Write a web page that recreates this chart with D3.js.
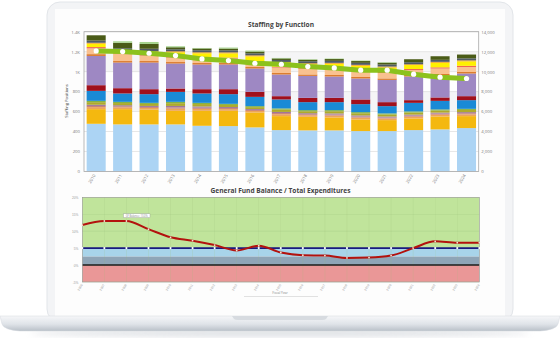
<!DOCTYPE html>
<html>
<head>
<meta charset="utf-8">
<script src="https://cdn.jsdelivr.net/npm/d3@7"></script>
<style>
  body { margin:0; background:#fff; }
  svg { display:block; font-family:"Open Sans", "DejaVu Sans", sans-serif; }
</style>
</head>
<body>
<svg id="main" width="560" height="361"></svg>
<script>
// staffing by function, stacked (positions)
var years = [2010,2011,2012,2013,2014,2015,2016,2017,2018,2019,2020,2021,2022,2023,2024];
var lightBlue = [477,471,471,471,457,454,441,414,411,411,404,404,414,421,434];
var gold      = [147,153,149,136,150,153,150,140,136,130,117,110,117,130,120];
var tan       = [20,18,16,22,20,17,15,19,16,18,18,16,17,17,18];
var rosy      = [12,11,10,13,12,11,10,12,10,11,11,10,11,11,11];
var mauve     = [12,10,10,14,12,10,9,11,10,11,11,10,10,10,11];
var olive     = [26,22,20,28,24,21,19,23,20,22,22,20,21,21,22];
var green     = [13,12,11,13,12,11,10,12,11,11,11,11,11,11,11];
var blue      = [100,84,87,100,94,97,93,90,80,80,80,73,86,86,87];
var darkRed   = [57,53,50,34,43,50,50,33,43,43,47,40,27,34,40];
var purple    = [293,257,267,250,247,247,234,217,220,214,210,223,237,220,227];
var orange    = [18,15,15,15,15,15,15,15,15,15,15,15,15,15,15];
var peach     = [58,70,55,45,40,45,50,55,55,55,55,55,50,55,50];
var salmon    = [13,8,8,10,10,10,10,8,8,10,10,10,10,12,12];
var yellow    = [33,15,25,43,48,42,47,38,39,47,47,44,40,45,45];
var amber     = [10,10,10,10,10,10,10,10,10,10,10,10,8,10,10];
var slate     = [22,25,25,20,20,20,20,20,20,20,20,20,20,20,20];
var darkOlive = [53,55,48,20,18,18,18,15,15,18,18,18,30,36,38];
var paleGreen = [0,15,20,10,5,10,10,5,5,5,5,5,0,0,0];
// right axis line
var staffLine = [12070,12010,11840,11610,11270,11110,10840,10740,10510,10370,10140,10140,9740,9440,9310];
var leftTicks = [0,200,400,600,800,1000,1200,1400];
var leftTickLabels = ["0","200","400","600","800","1K","1.2K","1.4K"];
var rightTicks = [0,2000,4000,6000,8000,10000,12000,14000];

// fund balance ratio (%)
var fundYears = [2006,2007,2008,2009,2010,2011,2012,2013,2014,2015,2016,2017,2018,2019,2020,2021,2022,2023,2024];
var fundRatio = [11.8,13.0,13.0,10.6,8.2,7.2,5.9,4.3,5.7,3.7,2.9,2.8,2.1,2.2,2.8,5.0,7.0,6.6,6.6];
var targetRatio = 5;
var fundTicks = [-5,0,5,10,15,20];
var bandFrom = [5,2.5,0,-5];
var bandTo   = [20,5,2.5,0];

!function(){
var series = [
  {name:"lightBlue", v:lightBlue, c:"#acd4f4"},
  {name:"gold", v:gold, c:"#f4b80f"},
  {name:"tan", v:tan, c:"#eda55a"},
  {name:"rosy", v:rosy, c:"#c98476"},
  {name:"mauve", v:mauve, c:"#a0769a"},
  {name:"olive", v:olive, c:"#aeaa2c"},
  {name:"green", v:green, c:"#86b342"},
  {name:"blue", v:blue, c:"#1a8ad6"},
  {name:"darkRed", v:darkRed, c:"#a0101c"},
  {name:"purple", v:purple, c:"#9e88c3"},
  {name:"orange", v:orange, c:"#dc7b2c"},
  {name:"peach", v:peach, c:"#f9c18f"},
  {name:"salmon", v:salmon, c:"#ef6452"},
  {name:"yellow", v:yellow, c:"#fff000"},
  {name:"amber", v:amber, c:"#f3a423"},
  {name:"slate", v:slate, c:"#505b66"},
  {name:"darkOlive", v:darkOlive, c:"#4a5b17"},
  {name:"paleGreen", v:paleGreen, c:"#a6d48e"}
];

var svg = d3.select("#main");

// ---- laptop ----
var defs = svg.append("defs");
var g1 = defs.append("linearGradient").attr("id","baseGrad").attr("x1",0).attr("y1",0).attr("x2",0).attr("y2",1);
g1.append("stop").attr("offset","0%").attr("stop-color","#f6f7f9");
g1.append("stop").attr("offset","55%").attr("stop-color","#dfe3e8");
g1.append("stop").attr("offset","100%").attr("stop-color","#b9c0c8");
defs.append("filter").attr("id","blur").append("feGaussianBlur").attr("stdDeviation",3);

svg.append("ellipse").attr("cx",280).attr("cy",333).attr("rx",250).attr("ry",4)
  .attr("fill","#c9ced4").attr("opacity",0.6).attr("filter","url(#blur)");
svg.append("rect").attr("x",47).attr("y",2).attr("width",466).attr("height",320).attr("rx",13)
  .attr("fill","#f3f4f6").attr("stroke","#e2e5e9");
svg.append("rect").attr("x",55).attr("y",9).attr("width",450).attr("height",308)
  .attr("fill","#fdfdfd");
svg.append("path")
  .attr("d","M0,316 L560,316 L558,324 Q556,330 540,331 L20,331 Q4,330 2,324 Z")
  .attr("fill","url(#baseGrad)").attr("stroke","#d5d9de").attr("stroke-width",0.5);
svg.append("path").attr("d","M232,316 L328,316 L326,319 Q325,320 322,320 L238,320 Q235,320 234,319 Z")
  .attr("fill","#d7dbe0");

// ---- top chart ----
var tb = {l:84, r:478.7, t:31.7, b:171.4};
var x = d3.scaleBand().domain(years).range([tb.l, tb.r]).paddingInner(0.28).paddingOuter(0.1);
var yL = d3.scaleLinear().domain([0,1400]).range([tb.b, tb.t]);
var yR = d3.scaleLinear().domain([0,14000]).range([tb.b, tb.t]);

var gt = svg.append("g");
gt.append("rect").attr("x",tb.l).attr("y",tb.t).attr("width",tb.r-tb.l).attr("height",tb.b-tb.t).attr("fill","#fff");
[[600,800],[1000,1200]].forEach(function(b){
  gt.append("rect").attr("x",tb.l).attr("width",tb.r-tb.l)
    .attr("y",yL(b[1])).attr("height",yL(b[0])-yL(b[1])).attr("fill","#f5f5f6");
});
gt.selectAll(".grid").data(leftTicks).enter().append("line")
  .attr("x1",tb.l).attr("x2",tb.r).attr("y1",function(d){return yL(d);}).attr("y2",function(d){return yL(d);})
  .attr("stroke","#d6d6d6").attr("stroke-width",0.6);

var table = years.map(function(yr,i){
  var row = {year:yr};
  series.forEach(function(s){ row[s.name] = s.v[i]; });
  return row;
});
var stacked = d3.stack().keys(series.map(function(s){return s.name;}))(table);
gt.selectAll(".layer").data(stacked).enter().append("g")
  .attr("fill",function(d,i){return series[i].c;})
  .selectAll("rect").data(function(d){return d;}).enter().append("rect")
  .attr("x",function(d){return x(d.data.year);})
  .attr("width",x.bandwidth())
  .attr("y",function(d){return yL(d[1]);})
  .attr("height",function(d){return Math.max(0,yL(d[0])-yL(d[1]));});

gt.append("rect").attr("x",tb.l).attr("y",tb.t).attr("width",tb.r-tb.l).attr("height",tb.b-tb.t)
  .attr("fill","none").attr("stroke","#a9a9a9").attr("stroke-width",0.8);

var line = d3.line().x(function(d,i){return x(years[i])+x.bandwidth()/2;}).y(function(d){return yR(d);});
gt.append("path").datum(staffLine).attr("d",line).attr("fill","none")
  .attr("stroke","#8cc21d").attr("stroke-width",5).attr("stroke-linejoin","round").attr("stroke-linecap","round");
gt.selectAll(".dot").data(staffLine).enter().append("circle")
  .attr("cx",function(d,i){return x(years[i])+x.bandwidth()/2;}).attr("cy",function(d){return yR(d);})
  .attr("r",2.6).attr("fill","#fff");

var axL = d3.axisLeft(yL).tickValues(leftTicks).tickFormat(function(d,i){return leftTickLabels[i];}).tickSize(0).tickPadding(4);
var gL = gt.append("g").attr("transform","translate("+tb.l+",0)").call(axL);
var axR = d3.axisRight(yR).tickValues(rightTicks).tickFormat(d3.format(",")).tickSize(0).tickPadding(2.5);
var gR = gt.append("g").attr("transform","translate("+tb.r+",0)").call(axR);
var axB = d3.axisBottom(x).tickSize(0).tickPadding(3);
var gB = gt.append("g").attr("transform","translate(0,"+tb.b+")").call(axB);
[gL,gR,gB].forEach(function(g){
  g.select(".domain").remove();
  g.selectAll("text").attr("font-size",4.3).attr("fill","#777").attr("font-family","Open Sans, sans-serif");
});
gB.selectAll("text").attr("text-anchor","end").attr("dy",0)
  .attr("transform","translate(0,3) rotate(-60)").attr("y",0).attr("x",-1);

gt.append("text").attr("x",281).attr("y",27).attr("text-anchor","middle")
  .attr("font-size",6.6).attr("font-weight","bold").attr("fill","#444").text("Staffing by Function");
gt.append("text").attr("transform","translate(67.5,101) rotate(-90)").attr("text-anchor","middle")
  .attr("font-size",4.2).attr("fill","#333").text("Staffing Positions");

// ---- bottom chart ----
var bot = {l:82.3, r:479.3, t:197.3, b:282};
var xf = d3.scalePoint().domain(fundYears).range([bot.l, bot.r]);
var yf = d3.scaleLinear().domain([-5,20]).range([bot.b, bot.t]);
var bandColors = ["#c0e49b","#a8d4ea","#8fa5b7","#ea9797"];

var gb = svg.append("g");
gb.selectAll(".band").data(bandFrom).enter().append("rect")
  .attr("x",bot.l).attr("width",bot.r-bot.l)
  .attr("y",function(d,i){return yf(bandTo[i]);})
  .attr("height",function(d,i){return yf(d)-yf(bandTo[i]);})
  .attr("fill",function(d,i){return bandColors[i];});
gb.selectAll(".vgrid").data(fundYears).enter().append("line")
  .attr("x1",function(d){return xf(d);}).attr("x2",function(d){return xf(d);})
  .attr("y1",bot.t).attr("y2",bot.b).attr("stroke","#9cbf7c").attr("stroke-width",0.3).attr("opacity",0.6);
gb.selectAll(".hgrid").data(fundTicks).enter().append("line")
  .attr("x1",bot.l).attr("x2",bot.r).attr("y1",function(d){return yf(d);}).attr("y2",function(d){return yf(d);})
  .attr("stroke","#9cbf7c").attr("stroke-width",0.4).attr("opacity",0.7);
gb.append("line").attr("x1",bot.l).attr("x2",bot.r).attr("y1",yf(0)).attr("y2",yf(0))
  .attr("stroke","#1c1c1c").attr("stroke-width",1.4);
gb.append("rect").attr("x",bot.l).attr("y",bot.t).attr("width",bot.r-bot.l).attr("height",bot.b-bot.t)
  .attr("fill","none").attr("stroke","#9a9a9a").attr("stroke-width",0.6);

gb.append("line").attr("x1",bot.l).attr("x2",bot.r).attr("y1",yf(targetRatio)).attr("y2",yf(targetRatio))
  .attr("stroke","#1a1a80").attr("stroke-width",1.6);
gb.selectAll(".tdot").data(fundYears).enter().append("circle")
  .attr("cx",function(d){return xf(d);}).attr("cy",yf(targetRatio)).attr("r",1.1).attr("fill","#fff");

var fline = d3.line().x(function(d,i){return xf(fundYears[i]);}).y(function(d){return yf(d);}).curve(d3.curveMonotoneX);
gb.append("path").datum(fundRatio).attr("d",fline).attr("fill","none")
  .attr("stroke","#b3120e").attr("stroke-width",2);
gb.selectAll(".fdot").data(fundRatio).enter().append("circle")
  .attr("cx",function(d,i){return xf(fundYears[i]);}).attr("cy",function(d){return yf(d);})
  .attr("r",0.9).attr("fill","#f4e0d0");

var axF = d3.axisLeft(yf).tickValues(fundTicks).tickFormat(function(d){return d+"%";}).tickSize(0).tickPadding(4);
var gF = gb.append("g").attr("transform","translate("+bot.l+",0)").call(axF);
var axFB = d3.axisBottom(xf).tickSize(0).tickPadding(2);
var gFB = gb.append("g").attr("transform","translate(0,"+bot.b+")").call(axFB);
[gF,gFB].forEach(function(g){
  g.select(".domain").remove();
  g.selectAll("text").attr("font-size",3.2).attr("fill","#999");
});
gFB.selectAll("text").attr("text-anchor","end").attr("y",0).attr("dy",0)
  .attr("transform","translate(0,3) rotate(-60)");

// tooltip-like label
gb.append("rect").attr("x",123.5).attr("y",213.8).attr("width",26.5).attr("height",3.8)
  .attr("fill","#fff").attr("stroke","#9a9a9a").attr("stroke-width",0.4);
gb.append("text").attr("x",136.7).attr("y",216.6).attr("text-anchor","middle")
  .attr("font-size",2.6).attr("fill","#888").text("GF Balance: 13.0%");

gb.append("text").attr("x",280.5).attr("y",193).attr("text-anchor","middle")
  .attr("font-size",6.6).attr("font-weight","bold").attr("fill","#444").text("General Fund Balance / Total Expenditures");
gb.append("text").attr("x",280).attr("y",293.5).attr("text-anchor","middle")
  .attr("font-size",3.2).attr("fill","#888").text("Fiscal Year");
gb.append("line").attr("x1",244).attr("x2",318).attr("y1",296.5).attr("y2",296.5)
  .attr("stroke","#cfcfcf").attr("stroke-width",0.6);
}();
</script>
</body>
</html>
